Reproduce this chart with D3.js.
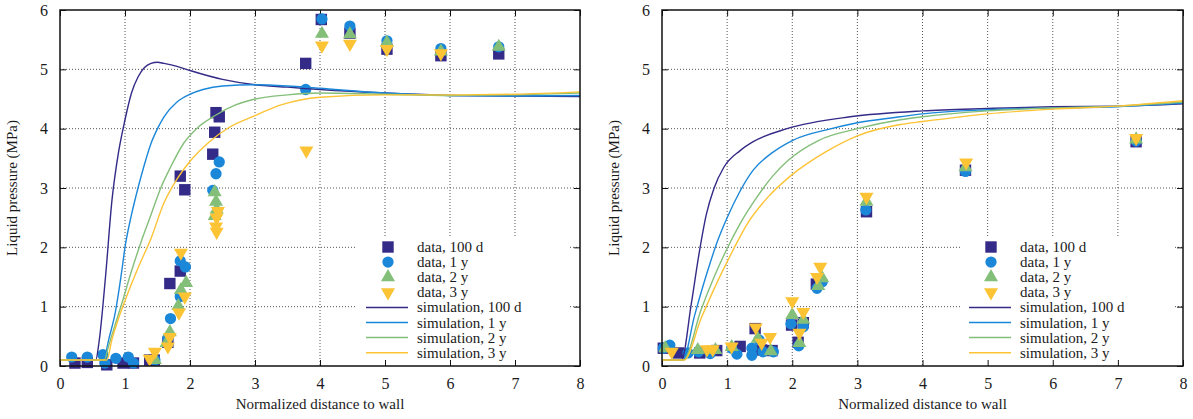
<!DOCTYPE html>
<html><head><meta charset="utf-8">
<script src="https://cdn.jsdelivr.net/npm/d3@7"></script>
<style>body{margin:0;background:#fff}svg{display:block}</style>
</head><body><svg id="c" width="1193" height="419"></svg>
<script>
// ---------- data ----------
const seriesNames = ["100 d", "1 y", "2 y", "3 y"];
const xTicks = [0,1,2,3,4,5,6,7,8];
const yTicks = [0,1,2,3,4,5,6];

// Left panel measurements
const L_data100d = [[0.23,0.05],[0.42,0.06],[0.72,0.02],[0.97,0.05],[1.13,0.05],[1.38,0.1],[1.45,0.1],[1.66,0.4],[1.69,1.39],[1.85,1.6],[1.85,3.2],[1.92,2.97],[2.35,3.57],[2.38,3.94],[2.4,4.27],[2.45,4.2],[3.78,5.1],[4.02,5.84],[4.46,5.61],[5.03,5.34],[5.86,5.23],[6.75,5.26]];
const L_data1y = [[0.18,0.15],[0.42,0.15],[0.66,0.19],[0.69,0.05],[0.86,0.13],[1.05,0.15],[1.13,0.05],[1.46,0.1],[1.66,0.47],[1.7,0.8],[1.85,1.17],[1.85,1.77],[1.93,1.67],[2.35,2.96],[2.4,3.24],[2.45,3.44],[3.78,4.66],[4.03,5.85],[4.46,5.73],[5.03,5.48],[5.86,5.35],[6.75,5.38]];
const L_data2y = [[1.46,0.1],[1.64,0.39],[1.69,0.57],[1.82,1.01],[1.86,1.28],[1.94,1.4],[2.38,2.93],[2.4,2.77],[2.41,2.64],[2.38,2.53],[4.03,5.6],[4.46,5.59],[5.03,5.45],[5.86,5.3],[6.75,5.38]];
const L_data3y = [[1.38,0.12],[1.46,0.24],[1.66,0.33],[1.69,0.49],[1.83,0.9],[1.92,1.17],[1.86,1.91],[2.43,2.61],[2.41,2.5],[2.4,2.35],[2.41,2.26],[3.79,3.63],[4.03,5.4],[4.46,5.43],[5.03,5.34],[5.86,5.27]];

// Left panel simulations
const L_sim100d = [[0,0.1],[0.55,0.1],[0.6,0.4],[0.7,1.5],[0.8,2.8],[0.9,3.6],[1.0,4.15],[1.1,4.6],[1.2,4.87],[1.3,5.03],[1.4,5.1],[1.5,5.12],[1.6,5.1],[1.8,5.05],[2.0,4.98],[2.5,4.83],[3.0,4.74],[3.5,4.7],[4,4.66],[5,4.6],[6,4.56],[7,4.55],[8,4.54]];
const L_sim1y = [[0,0.1],[0.67,0.1],[0.75,0.45],[0.85,0.9],[0.95,1.6],[1.0,2.0],[1.1,2.55],[1.2,3.0],[1.3,3.4],[1.4,3.75],[1.5,4.0],[1.6,4.2],[1.8,4.45],[2.0,4.58],[2.2,4.66],[2.5,4.72],[3,4.74],[3.5,4.72],[4,4.68],[5,4.6],[6,4.56],[7,4.55],[8,4.56]];
const L_sim2y = [[0,0.1],[0.68,0.1],[0.75,0.35],[0.85,0.7],[0.95,1.05],[1.1,1.6],[1.25,2.1],[1.4,2.55],[1.55,3.0],[1.7,3.35],[1.9,3.75],[2.1,4.0],[2.4,4.23],[2.7,4.4],[3.0,4.5],[3.5,4.57],[4,4.6],[5,4.58],[6,4.56],[7,4.57],[8,4.6]];
const L_sim3y = [[0,0.1],[0.72,0.1],[0.8,0.45],[0.9,0.8],[1.0,1.1],[1.2,1.65],[1.4,2.15],[1.6,2.75],[1.8,3.15],[2.0,3.45],[2.3,3.78],[2.6,4.02],[3.0,4.22],[3.4,4.4],[4,4.53],[5,4.57],[6,4.57],[7,4.58],[8,4.62]];

// Right panel measurements
const R_data100d = [[0.02,0.3],[0.25,0.22],[0.58,0.22],[0.84,0.26],[1.2,0.33],[1.43,0.63],[1.53,0.27],[1.69,0.26],[1.99,0.69],[2.09,0.4],[2.17,0.73],[2.37,1.38],[3.14,2.6],[4.66,3.3],[7.28,3.78]];
const R_data1y = [[0.02,0.3],[0.12,0.35],[0.4,0.22],[0.56,0.24],[0.74,0.21],[1.07,0.3],[1.15,0.2],[1.38,0.3],[1.38,0.18],[1.49,0.44],[1.55,0.24],[1.71,0.24],[1.98,0.71],[2.1,0.34],[2.17,0.66],[2.38,1.31],[2.46,1.42],[3.13,2.63],[4.66,3.28],[7.28,3.79]];
const R_data2y = [[0.05,0.3],[0.55,0.27],[0.82,0.27],[1.07,0.32],[1.47,0.46],[1.67,0.25],[2.0,0.86],[2.11,0.39],[2.17,0.78],[2.4,1.35],[2.46,1.48],[3.14,2.77],[4.66,3.35],[7.28,3.82]];
const R_data3y = [[0.15,0.24],[0.69,0.28],[0.78,0.28],[1.07,0.33],[1.44,0.65],[1.53,0.39],[1.66,0.49],[2.0,1.09],[2.11,0.56],[2.17,0.91],[2.38,1.5],[2.43,1.67],[3.14,2.85],[4.67,3.43],[7.28,3.84]];

// Right panel simulations
const R_sim100d = [[0,0.1],[0.3,0.1],[0.45,1.05],[0.57,1.9],[0.68,2.55],[0.8,3.0],[0.95,3.35],[1.2,3.63],[1.4,3.78],[1.92,4.0],[2.89,4.2],[4,4.3],[5,4.34],[6,4.37],[7,4.38],[8,4.42]];
const R_sim1y = [[0,0.1],[0.32,0.1],[0.5,0.85],[0.7,1.6],[0.85,2.1],[1.0,2.5],[1.2,2.95],[1.4,3.3],[1.7,3.6],[2.0,3.8],[2.6,4.0],[3.0,4.1],[3.66,4.2],[4,4.25],[5,4.32],[6,4.35],[7,4.37],[8,4.43]];
const R_sim2y = [[0,0.1],[0.33,0.1],[0.6,0.95],[0.8,1.5],[1.0,1.98],[1.2,2.4],[1.46,2.85],[1.7,3.2],[1.92,3.45],[2.4,3.8],[3.0,4.0],[3.66,4.15],[4,4.2],[5,4.3],[6,4.35],[7,4.38],[8,4.45]];
const R_sim3y = [[0,0.1],[0.34,0.1],[0.6,0.8],[0.8,1.3],[1.09,1.95],[1.3,2.38],[1.63,2.85],[1.97,3.2],[2.5,3.6],[3.0,3.88],[3.66,4.07],[4,4.12],[5,4.25],[6,4.33],[7,4.38],[8,4.47]];

const colors = ["#342a87", "#1b87d9", "#84bf7a", "#fcc335"];
const symbols = [d3.symbolSquare, d3.symbolCircle, d3.symbolTriangle, d3.symbolTriangle];
const symSizes = [130, 100, 85, 85];
const symRot = [0, 0, 0, 180];
const FONT = "Liberation Serif";

const svg = d3.select("#c");

function panel(x0, x1, yLabelX, dataSets, simSets, legendBox) {
  const top = 10, bottom = 366;
  const x = d3.scaleLinear().domain([0, 8]).range([x0, x1]);
  const y = d3.scaleLinear().domain([0, 6]).range([bottom, top]);
  const g = svg.append("g");

  // grid
  const grid = g.append("g").attr("stroke", "#555").attr("stroke-width", 1).attr("stroke-dasharray", "1,2");
  xTicks.slice(1, -1).forEach(t => grid.append("line").attr("x1", x(t)).attr("x2", x(t)).attr("y1", top).attr("y2", bottom));
  yTicks.slice(1, -1).forEach(t => grid.append("line").attr("x1", x0).attr("x2", x1).attr("y1", y(t)).attr("y2", y(t)));

  // legend background hides grid
  g.append("rect").attr("x", legendBox.x).attr("y", legendBox.y).attr("width", legendBox.w).attr("height", bottom - legendBox.y).attr("fill", "#fff");

  // axes
  const ax = d3.axisBottom(x).tickValues(xTicks).tickSize(-6).tickPadding(12).tickFormat(d3.format("d"));
  const axT = d3.axisTop(x).tickValues(xTicks).tickSize(-6).tickFormat("");
  const ay = d3.axisLeft(y).tickValues(yTicks).tickSize(-6).tickPadding(12).tickFormat(d3.format("d"));
  const ayR = d3.axisRight(y).tickValues(yTicks).tickSize(-6).tickFormat("");
  [[ax, `translate(0,${bottom})`], [axT, `translate(0,${top})`], [ay, `translate(${x0},0)`], [ayR, `translate(${x1},0)`]].forEach(([a, t]) => {
    const ag = g.append("g").attr("transform", t).call(a).attr("font-family", FONT);
    ag.select(".domain").remove();
    ag.selectAll("line").attr("stroke", "#111").attr("stroke-width", 1);
    ag.selectAll("text").style("font-family", FONT).style("font-size", "16px").attr("fill", "#1a1a1a");
  });

  // markers
  dataSets.forEach((ds, i) => {
    const sym = d3.symbol().type(symbols[i]).size(symSizes[i]);
    g.append("g").selectAll("path").data(ds).join("path")
      .attr("d", sym)
      .attr("fill", colors[i])
      .attr("transform", d => `translate(${x(d[0])},${y(d[1])}) rotate(${symRot[i]})`);
  });

  // simulations
  const line = d3.line().x(d => x(d[0])).y(d => y(d[1])).curve(d3.curveMonotoneX);
  simSets.forEach((s, i) => {
    g.append("path").datum(s).attr("d", line).attr("fill", "none").attr("stroke", colors[i]).attr("stroke-width", 1.4);
  });

  // frame
  g.append("rect").attr("x", x0).attr("y", top).attr("width", x1 - x0).attr("height", bottom - top)
    .attr("fill", "none").attr("stroke", "#111").attr("stroke-width", 1.5);

  // labels
  g.append("text").attr("x", (x0 + x1) / 2).attr("y", 409).attr("text-anchor", "middle")
    .style("font-family", FONT).style("font-size", "15px").attr("fill", "#1a1a1a").text("Normalized distance to wall");
  g.append("text").attr("transform", `translate(${yLabelX},${(top + bottom) / 2}) rotate(-90)`).attr("text-anchor", "middle")
    .style("font-family", FONT).style("font-size", "15px").attr("fill", "#1a1a1a").text("Liquid pressure (MPa)");

  // legend
  const lg = g.append("g");
  const rowH = 15.1, row0 = 247;
  seriesNames.forEach((n, i) => {
    const yy = row0 + i * rowH;
    lg.append("path").attr("d", d3.symbol().type(symbols[i]).size(symSizes[i])())
      .attr("fill", colors[i]).attr("transform", `translate(${legendBox.sym},${yy}) rotate(${symRot[i]})`);
    lg.append("text").attr("x", legendBox.text).attr("y", yy + 5).style("font-family", FONT).style("font-size", "15px").attr("fill", "#1a1a1a").text("data, " + n);
  });
  seriesNames.forEach((n, i) => {
    const yy = row0 + (i + 4) * rowH;
    lg.append("line").attr("x1", legendBox.sym - 22).attr("x2", legendBox.sym + 20).attr("y1", yy).attr("y2", yy)
      .attr("stroke", colors[i]).attr("stroke-width", 1.5);
    lg.append("text").attr("x", legendBox.text).attr("y", yy + 5).style("font-family", FONT).style("font-size", "15px").attr("fill", "#1a1a1a").text("simulation, " + n);
  });
}

panel(60, 580, 17, [L_data100d, L_data1y, L_data2y, L_data3y], [L_sim100d, L_sim1y, L_sim2y, L_sim3y],
  {x: 357, y: 238, w: 212, sym: 388, text: 417});
panel(662, 1183, 619, [R_data100d, R_data1y, R_data2y, R_data3y], [R_sim100d, R_sim1y, R_sim2y, R_sim3y],
  {x: 960, y: 238, w: 215, sym: 991, text: 1020});
</script></body></html>
